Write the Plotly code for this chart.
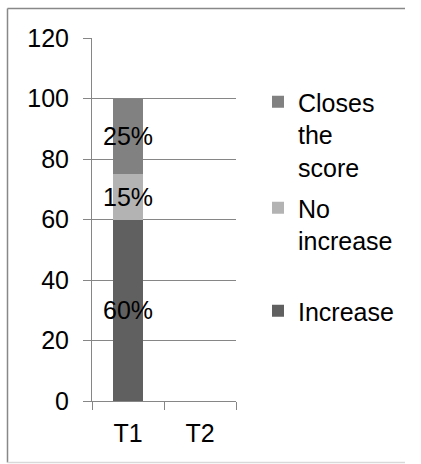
import plotly.graph_objects as go

categories = ["T1", "T2"]
increase = [60, None]
no_increase = [15, None]
closes_score = [25, None]

series_names = ["Increase", "No increase", "Closes the score"]
legend_labels = ["Increase", "No<br>increase", "Closes<br>the<br>score"]
series_values = [increase, no_increase, closes_score]
series_colors = ["#606060", "#b3b3b3", "#818181"]
legend_ids = ["legend3", "legend2", "legend"]

y_ticks = [0, 20, 40, 60, 80, 100, 120]

FONT = "Liberation Sans, Arial, sans-serif"
FS = 25

fig = go.Figure()
for name, lab, vals, col, lg in zip(series_names, legend_labels, series_values, series_colors, legend_ids):
    fig.add_trace(go.Bar(
        x=categories, y=vals, name=lab,
        marker=dict(color=col, line=dict(width=0)),
        text=[f"{v}%" if v is not None else "" for v in vals],
        textposition="inside", insidetextanchor="middle", textangle=0,
        constraintext="none", cliponaxis=False,
        insidetextfont=dict(color="black", size=FS, family=FONT),
        legend=lg, showlegend=True,
    ))

W, H = 421, 464
L, R, T, B = 92, 185, 38, 63
pw = W - L - R
ph = H - T - B

def px(x):
    return (x - L) / pw

def py(y):
    return (H - B - y) / ph

leg_common = dict(font=dict(family=FONT, size=FS, color="black"), valign="top",
                  xanchor="left", yanchor="top", bgcolor="rgba(0,0,0,0)",
                  borderwidth=0, itemclick=False, visible=True)

fig.update_layout(
    width=W, height=H,
    margin=dict(l=L, r=R, t=T, b=B),
    paper_bgcolor="white", plot_bgcolor="white",
    barmode="stack", bargap=0.595, showlegend=True,
    font=dict(family=FONT, size=FS, color="black"),
    legend=dict(x=px(258), y=py(79), **leg_common),
    legend2=dict(x=px(258), y=py(185), **leg_common),
    legend3=dict(x=px(258), y=py(288), **leg_common),
    xaxis=dict(
        type="category", range=[-0.5, 1.5], tickson="boundaries",
        ticks="outside", ticklen=8, tickcolor="#868686", tickwidth=1,
        showline=True, linecolor="#868686", linewidth=1,
        showgrid=False, tickfont=dict(size=FS, color="black", family=FONT),
        ticklabelstandoff=10,
    ),
    yaxis=dict(
        range=[0, 120], tickvals=y_ticks, ticktext=[str(v) for v in y_ticks],
        ticks="outside", ticklen=8, tickcolor="#868686", tickwidth=1,
        showline=True, linecolor="#868686", linewidth=1,
        showgrid=True, gridcolor="#868686", gridwidth=1, zeroline=False,
        tickfont=dict(size=FS, color="black", family=FONT),
        ticklabelstandoff=9,
    ),
    shapes=[
        dict(type="line", xref="paper", yref="paper", x0=px(7.5), x1=px(405), y0=py(8.5), y1=py(8.5),
             line=dict(color="#888888", width=1.5)),
        dict(type="line", xref="paper", yref="paper", x0=px(7.5), x1=px(7.5), y0=py(8.5), y1=py(462.5),
             line=dict(color="#888888", width=1.5)),
        dict(type="line", xref="paper", yref="paper", x0=px(7.5), x1=px(405), y0=py(462.5), y1=py(462.5),
             line=dict(color="#d9d9d9", width=1.5)),
    ],
)

fig.write_html(
    "out.html",
    config={"displayModeBar": False},
    post_script="document.documentElement.style.overflow='hidden';document.body.style.overflow='hidden';document.body.style.margin='0';",
)
